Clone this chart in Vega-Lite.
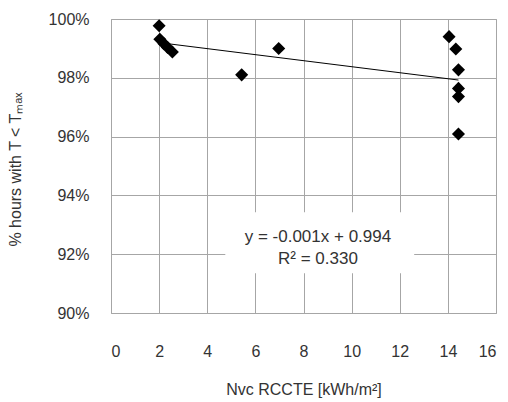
{
  "$schema": "https://vega.github.io/schema/vega-lite/v6.json",
  "width": 385,
  "height": 294,
  "autosize": {"type": "none"},
  "padding": {"left": 111, "top": 19, "right": 12, "bottom": 89},
  "background": "white",
  "config": {
    "font": "Liberation Sans",
    "view": {"stroke": "#a6a6a6", "strokeWidth": 1},
    "axis": {
      "grid": true,
      "gridColor": "#a6a6a6",
      "gridWidth": 1,
      "domain": false,
      "ticks": false,
      "labelFont": "Liberation Sans",
      "labelFontSize": 16,
      "labelColor": "#333333",
      "titleFont": "Liberation Sans",
      "titleFontSize": 16,
      "titleFontWeight": "normal",
      "titleColor": "#333333"
    }
  },
  "datasets": {
    "points": [
      {"x": 2.0, "y": 0.9977},
      {"x": 2.03, "y": 0.9931},
      {"x": 2.2, "y": 0.9916},
      {"x": 2.35, "y": 0.9903},
      {"x": 2.55, "y": 0.9888},
      {"x": 5.43, "y": 0.981},
      {"x": 6.97, "y": 0.99},
      {"x": 14.05, "y": 0.994},
      {"x": 14.33, "y": 0.9898},
      {"x": 14.44, "y": 0.9827},
      {"x": 14.44, "y": 0.9764},
      {"x": 14.44, "y": 0.9736},
      {"x": 14.44, "y": 0.9609}
    ],
    "box": [{"x1": 4.75, "x2": 12.6, "y1": 0.9135, "y2": 0.9343}],
    "labels": [
      {"x": 8.6, "y": 0.9257, "t": "y = -0.001x  + 0.994"},
      {"x": 8.6, "y": 0.9183, "t": "R² = 0.330"}
    ]
  },
  "layer": [
    {
      "data": {"name": "points"},
      "mark": {"type": "point", "shape": "diamond", "filled": true, "color": "black", "size": 170, "opacity": 1},
      "encoding": {
        "x": {
          "field": "x", "type": "quantitative",
          "scale": {"domain": [0, 16], "nice": false, "zero": false},
          "axis": {"values": [0, 2, 4, 6, 8, 10, 12, 14, 16], "labelPadding": 38, "labelBaseline": "middle", "title": "Nᴠᴄ RCCTE [kWh/m²]", "titlePadding": 22}
        },
        "y": {
          "field": "y", "type": "quantitative",
          "scale": {"domain": [0.9, 1.0], "nice": false, "zero": false},
          "axis": {"values": [0.9, 0.92, 0.94, 0.96, 0.98, 1.0], "format": ".0%", "labelPadding": 22, "title": "% hours with T < Tₘₐₓ", "titlePadding": 25, "titleY": 150}
        }
      }
    },
    {
      "data": {"name": "points"},
      "transform": [{"regression": "y", "on": "x"}],
      "mark": {"type": "line", "color": "black", "strokeWidth": 1},
      "encoding": {
        "x": {"field": "x", "type": "quantitative"},
        "y": {"field": "y", "type": "quantitative"}
      }
    },
    {
      "data": {"name": "box"},
      "mark": {"type": "rect", "color": "white", "opacity": 1},
      "encoding": {
        "x": {"field": "x1", "type": "quantitative"},
        "x2": {"field": "x2"},
        "y": {"field": "y1", "type": "quantitative"},
        "y2": {"field": "y2"}
      }
    },
    {
      "data": {"name": "labels"},
      "mark": {"type": "text", "font": "Liberation Sans", "fontSize": 17, "color": "#333333", "align": "center", "baseline": "middle"},
      "encoding": {
        "x": {"field": "x", "type": "quantitative"},
        "y": {"field": "y", "type": "quantitative"},
        "text": {"field": "t"}
      }
    }
  ]
}
